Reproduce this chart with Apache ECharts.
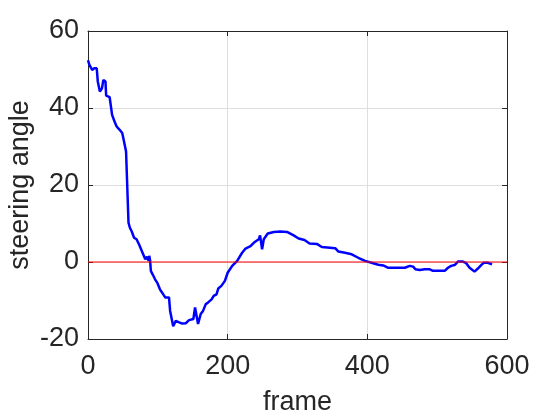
<!DOCTYPE html>
<html>
<head>
<meta charset="utf-8">
<script src="https://cdn.jsdelivr.net/npm/echarts@6/dist/echarts.min.js"></script>
<style>
  html, body { margin: 0; padding: 0; background: #fff; }
  #chart { width: 560px; height: 420px; }
</style>
</head>
<body>
<div id="chart"></div>
<script>
// values
const frames = [0, 2, 6, 9, 12.5, 14, 17, 20, 22, 25, 26, 31, 33, 34.5, 38, 41, 45, 49, 51, 53.5,
  54.5, 57, 58, 60, 62.5, 66, 69.5, 73, 76, 79, 82, 84.5, 86.7, 87.7, 89, 90, 92.5, 96, 99.5, 103,
  106.7, 110.5, 112.4, 116, 117.6, 120, 122, 125.7, 130.5, 135, 140, 144.7, 150.9, 153.3, 155,
  157.6, 159, 161.4, 164.7, 168.5, 172, 177, 180, 184, 186.5, 191, 196, 200, 206.5, 213.6, 220.7,
  225.6, 232.7, 238.8, 244.5, 246.4, 249.3, 251.7, 257.4, 266, 275.5, 285, 294.5, 301.6, 310,
  317.3, 327.7, 334.8, 354, 358.6, 368, 377.6, 387, 396.7, 406, 415.6, 422.8, 430, 453.7, 460.8,
  465.6, 468.8, 475, 477.4, 482.2, 489.4, 494, 510.8, 515.5, 520, 525, 529.7, 536.9, 541.6, 546.4,
  553.5, 558.3, 563, 566.8, 568.7, 572.5, 578.6];
const angles = [52.4, 51.2, 49.9, 50.3, 50.3, 46.9, 44.3, 45.1, 47.3, 46.9, 43.2, 42.8, 43, 38.2,
  36.5, 35.2, 34.4, 33.5, 31.8, 31.3, 28.7, 28.3, 10.2, 8.9, 8.0, 6.3, 5.9, 4.6, 3.3, 2.0, 0.7, 1.4,
  0.3, 1.6, 0.3, -2.3, -3.2, -4.5, -5.5, -7.1, -8.1, -9.2, -8.8, -9.2, -12.7, -13.1, -16.7, -15.3,
  -15.7, -16, -15.9, -15.1, -14.8, -11.8, -11.8, -16.1, -16.1, -13.5, -12.7, -11, -10.5, -9.7, -8.8,
  -8.4, -6.9, -6.2, -4.9, -2.8, -1, 0.3, 2.4, 3.5, 4.1, 5.2, 5.9, 6.9, 3.3, 5.9, 7.4, 7.8, 7.9, 7.8,
  6.9, 6.1, 5.7, 4.8, 4.7, 3.9, 3.6, 2.7, 2.4, 2.0, 1.1, 0.3, -0.2, -0.7, -0.9, -1.5, -1.5, -1, -1.2,
  -1.9, -2.1, -2.5, -1.9, -1.9, -2.3, -2.3, -1.5, -1, -0.8, 0.1, 0.1, -0.3, -1.5, -2.5, -1.7, -0.8,
  -0.2, -0.6, -0.2, -0.6];
const zeroLineX = [0, 600];
const zeroLineY = [0, 0];

const textColor = '#262626';
const font = '"Liberation Sans", Arial, sans-serif';

const chart = echarts.init(document.getElementById('chart'));

const baseAxis = {
  axisLine: { show: true, onZero: false, lineStyle: { color: textColor, width: 1 } },
  axisTick: { show: true, inside: true, length: 5, lineStyle: { color: textColor } },
  splitLine: { show: false },
};

chart.setOption({
  animation: false,
  grid: { left: 88, right: 53, top: 31, bottom: 81, outerBoundsMode: 'none', containLabel: false },
  xAxis: [
    {
      ...baseAxis,
      type: 'value', min: 0, max: 600, interval: 200,
      name: 'frame', nameLocation: 'middle', nameGap: 50,
      nameTextStyle: { color: textColor, fontSize: 27, fontFamily: font },
      axisLabel: { color: textColor, fontSize: 27, fontFamily: font, margin: 14 },
      splitLine: { show: true, lineStyle: { color: '#dfdfdf', width: 1 } },
    },
    {
      ...baseAxis,
      type: 'value', min: 0, max: 600, interval: 200, position: 'top',
      axisLabel: { show: false },
    },
  ],
  yAxis: [
    {
      ...baseAxis,
      type: 'value', min: -20, max: 60, interval: 20,
      name: 'steering angle', nameLocation: 'middle', nameGap: 54, nameRotate: 90,
      nameMoveOverlap: false,
      nameTextStyle: { color: textColor, fontSize: 27, fontFamily: font },
      axisLabel: { color: textColor, fontSize: 27, fontFamily: font, margin: 9 },
      splitLine: { show: true, lineStyle: { color: '#dfdfdf', width: 1 } },
    },
    {
      ...baseAxis,
      type: 'value', min: -20, max: 60, interval: 20, position: 'right',
      axisLabel: { show: false },
    },
  ],
  series: [
    {
      type: 'line',
      data: zeroLineX.map((x, i) => [x, zeroLineY[i]]),
      showSymbol: false,
      lineStyle: { color: '#ff0000', width: 1 },
      z: 3,
    },
    {
      type: 'line',
      data: frames.map((x, i) => [x, angles[i]]),
      showSymbol: false,
      lineStyle: { color: '#0000ff', width: 2.5 },
      z: 2,
    },
  ],
});
</script>
</body>
</html>
